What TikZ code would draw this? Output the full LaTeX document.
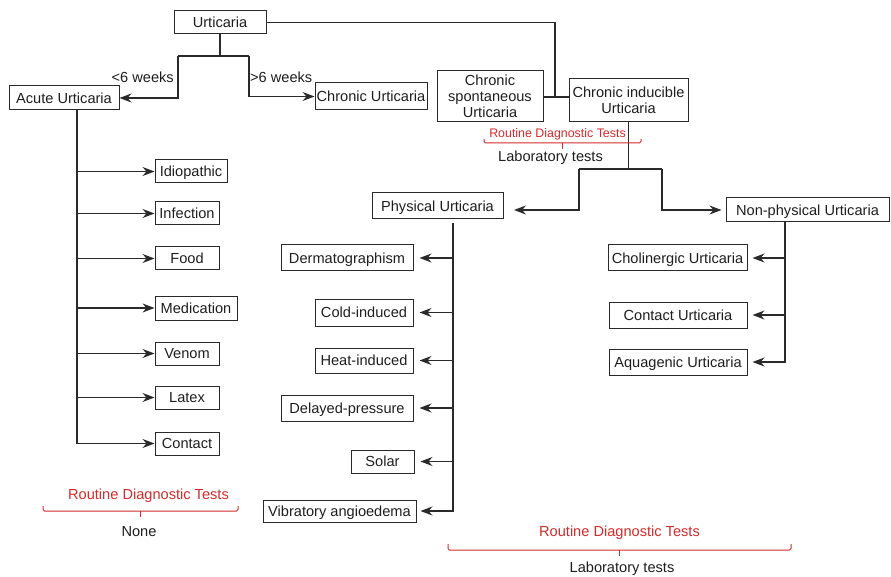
\documentclass[tikz,border=0pt]{standalone}
\usepackage{fontspec}
\setmainfont{Liberation Sans}
\usetikzlibrary{arrows.meta}
\definecolor{ln}{HTML}{2A2A2A}
\definecolor{rd}{HTML}{D42A2A}
\definecolor{tx}{HTML}{1E1E1E}
\begin{document}
\begin{tikzpicture}[x=1pt,y=-1pt,
  box/.style={draw=ln, line width=1pt, inner sep=0pt, text=tx,
    font=\fontsize{14.6}{16}\selectfont, align=center},
  one/.style={box, text height=10.5pt, text depth=0pt},
  conn/.style={draw=ln, line width=1.2pt},
  arr/.style={conn, -{Stealth[length=12pt,width=9pt,inset=4pt]}},
  lbl/.style={inner sep=0pt, text=tx, font=\fontsize{14.6}{16}\selectfont},
  redlbl/.style={inner sep=0pt, text=rd, font=\fontsize{14.6}{16}\selectfont},
  bracer/.style={draw=rd, line width=1pt, rounded corners=1.5pt}
]
\useasboundingbox (0,0) rectangle (891,577);

% top level
\node[one, minimum width=92, minimum height=23] (urt) at (220,22.5) {Urticaria};
\node[one, minimum width=110, minimum height=24] (acute) at (64,98) {Acute Urticaria};
\node[one, minimum width=112, minimum height=27] (chronic) at (371,96.5) {Chronic Urticaria};
\node[box, minimum width=106, minimum height=51] (csu) at (490,96.5) {Chronic\\spontaneous\\Urticaria};
\node[box, minimum width=119, minimum height=43] (ciu) at (628.5,100.5) {Chronic inducible\\Urticaria};
\node[one, minimum width=131, minimum height=26] (phys) at (437.5,206) {Physical Urticaria};
\node[one, minimum width=163, minimum height=24] (nonphys) at (807.5,210) {Non-physical Urticaria};

% acute children
\node[one, minimum width=72, minimum height=23] (idio) at (191,171.5) {Idiopathic};
\node[one, minimum width=64, minimum height=23] (infec) at (187,213.5) {Infection};
\node[one, minimum width=64, minimum height=23] (food) at (187,258.5) {Food};
\node[one, minimum width=82, minimum height=24] (medic) at (196,308) {Medication};
\node[one, minimum width=64, minimum height=23] (venom) at (187,353.5) {Venom};
\node[one, minimum width=64, minimum height=23] (latex) at (187,397.5) {Latex};
\node[one, minimum width=64, minimum height=23] (contact) at (187,443.5) {Contact};

% physical children
\node[one, minimum width=132, minimum height=26] (derm) at (347,258) {Dermatographism};
\node[one, minimum width=98, minimum height=27] (cold) at (364,312.5) {Cold-induced};
\node[one, minimum width=98, minimum height=25] (heat) at (364,360.5) {Heat-induced};
\node[one, minimum width=132, minimum height=26] (delayed) at (347,408) {Delayed-pressure};
\node[one, minimum width=63, minimum height=23] (solar) at (382.5,461.5) {Solar};
\node[one, minimum width=153, minimum height=22] (vib) at (339.5,511) {Vibratory angioedema};

% non-physical children
\node[one, minimum width=139, minimum height=26] (chol) at (677.5,258) {Cholinergic Urticaria};
\node[one, minimum width=138, minimum height=26] (contu) at (678,315) {Contact Urticaria};
\node[one, minimum width=138, minimum height=26] (aqua) at (678,362) {Aquagenic Urticaria};

% labels
\node[lbl, anchor=east] (lt6) at (174,77) {<6 weeks};
\node[lbl, anchor=west] (gt6) at (250,77) {>6 weeks};
\node[redlbl, font=\fontsize{12.4}{14}\selectfont] (rdt1) at (557.5,134) {Routine Diagnostic Tests};
\node[lbl] (lab1) at (550.5,158) {Laboratory tests};
\node[redlbl] (rdt2) at (148.5,496) {Routine Diagnostic Tests};
\node[lbl] (none) at (139,532) {None};
\node[redlbl] (rdt3) at (619.5,533) {Routine Diagnostic Tests};
\node[lbl] (lab3) at (622,569) {Laboratory tests};

% junction coordinates
\coordinate (usplit) at (220,56);
\coordinate (ul) at (178,56);
\coordinate (ur) at (249,56);
\coordinate (cj) at (555,97);
\coordinate (ciuj) at (628.5,169);
\coordinate (pl) at (579,169);
\coordinate (pr) at (662,169);
\coordinate (pa) at (514,210);
\coordinate (avtop) at (77,110);
\coordinate (pvtop) at (453,223);
\coordinate (nvtop) at (785,222);

% connectors top
\draw[conn] (urt.south) -- (usplit);
\draw[conn] (ul) -- (ur);
\draw[arr] (ul) |- (acute.east);
\draw[arr] (ur) |- (chronic.west);
\draw[conn] (urt.east) -| (cj);
\draw[conn] (csu.east |- cj) -- (ciu.west |- cj);

% chronic inducible split
\draw[conn] (ciu.south) -- (ciuj);
\draw[conn] (pl) -- (pr);
\draw[arr] (pl) |- (pa);
\draw[arr, shorten >=4pt] (pr) |- (nonphys.west);

% acute children
\foreach \n in {idio,infec,food,medic,venom,latex}
  \draw[arr] (\n.west -| avtop) -- (\n.west);
\draw[arr] (avtop) |- (contact.west);

% physical children
\foreach \n in {derm,cold,heat,delayed,solar}
  \draw[arr, shorten >=6pt] (\n.east -| pvtop) -- (\n.east);
\draw[arr, shorten >=4pt] (pvtop) |- (vib.east);

% non-physical children
\foreach \n in {chol,contu}
  \draw[arr, shorten >=5pt] (\n.east -| nvtop) -- (\n.east);
\draw[arr, shorten >=5pt] (nvtop) |- (aqua.east);

% braces
\draw[bracer] (484,139) -- (484,143) -- (641,143) -- (641,139);
\draw[draw=rd, line width=1pt] (562.5,143) -- (562.5,149);
\draw[bracer] (43,506) -- (43,511) -- (238,511) -- (238,506);
\draw[draw=rd, line width=1pt] (140,511) -- (140,517);
\draw[bracer] (448,544) -- (448,550) -- (791,550) -- (791,544);
\draw[draw=rd, line width=1pt] (619.5,550) -- (619.5,556);
\end{tikzpicture}
\end{document}
